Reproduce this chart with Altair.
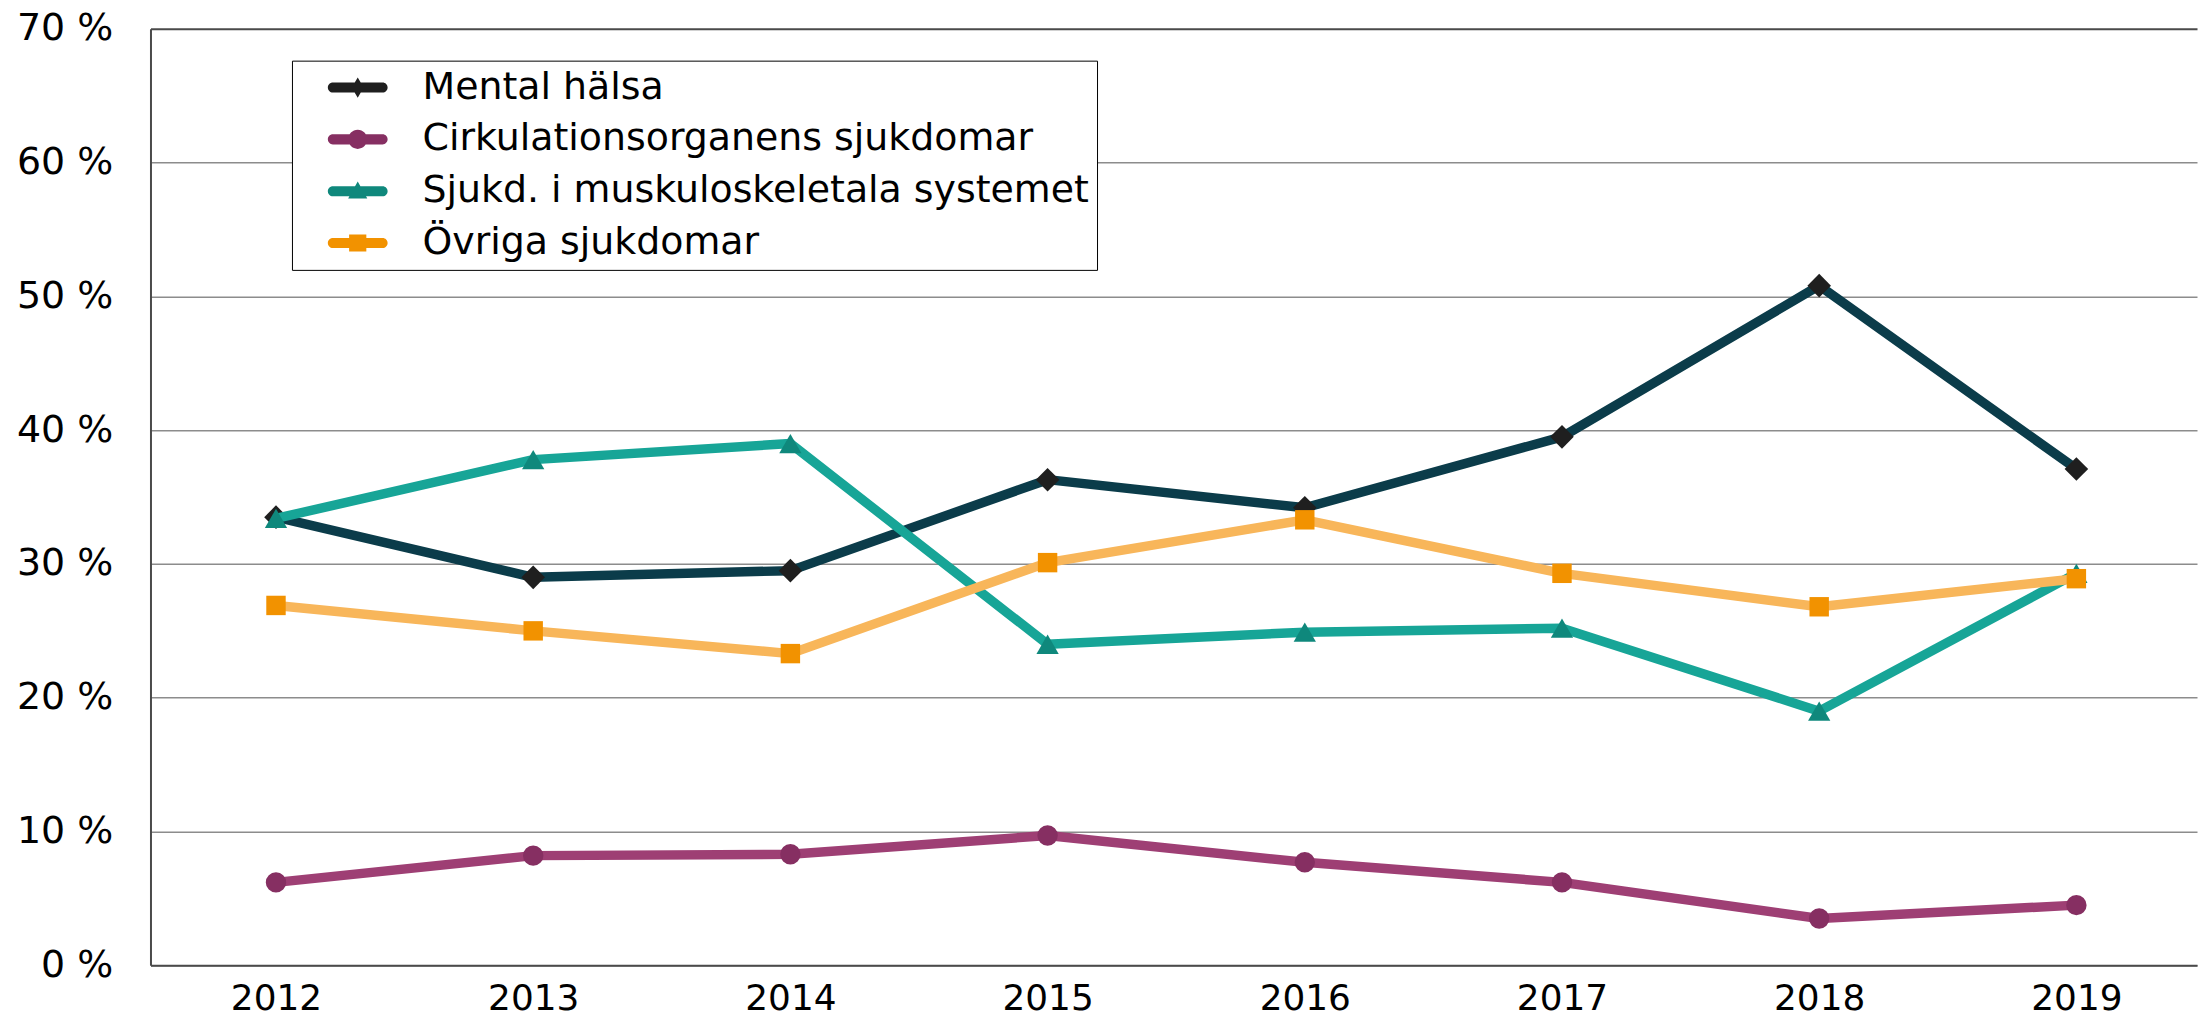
import altair as alt
import pandas as pd

# ---------------- data ----------------
years = [2012, 2013, 2014, 2015, 2016, 2017, 2018, 2019]
series_names = [
    "Mental hälsa",
    "Cirkulationsorganens sjukdomar",
    "Sjukd. i muskuloskeletala systemet",
    "Övriga sjukdomar",
]
mental = [33.5, 29.0, 29.5, 36.3, 34.2, 39.5, 50.8, 37.1]
cirkulation = [6.2, 8.2, 8.3, 9.7, 7.7, 6.2, 3.5, 4.5]
muskulo = [33.4, 37.8, 39.0, 24.0, 24.9, 25.2, 19.0, 29.3]
ovriga = [26.9, 25.0, 23.3, 30.1, 33.3, 29.3, 26.8, 28.9]
y_ticks = [0, 10, 20, 30, 40, 50, 60, 70]

values = [mental, cirkulation, muskulo, ovriga]

# ---------------- styles ----------------
line_colors = ["#0b3c4a", "#9e3f74", "#17a597", "#f8b65a"]
marker_colors = ["#1f1f1f", "#862f62", "#0f887c", "#f29200"]
marker_shapes = ["diamond", "circle", "triangle-up", "square"]
marker_sizes = [560, 420, 500, 380]
FONT = "DejaVu Sans"
AXIS_DARK = "#4a4a4a"

rows = []
for name, vals in zip(series_names, values):
    for yr, v in zip(years, vals):
        rows.append({"year": yr, "value": v, "series": name})
df = pd.DataFrame(rows)

# legend symbol paths (bar with rounded ends + marker), shifted by dx units
def f(v):
    return f"{v:.3f}"

def legend_path(marker, dx):
    bar = (f"M{f(dx-2.08)},-0.42 H{f(dx+2.08)} A0.42,0.42 0 0,1 {f(dx+2.08)},0.42 "
           f"H{f(dx-2.08)} A0.42,0.42 0 0,1 {f(dx-2.08)},-0.42 Z")
    if marker == "diamond":
        m = f"M{f(dx)},-0.85 L{f(dx+0.5)},0 L{f(dx)},0.85 L{f(dx-0.5)},0 Z"
    elif marker == "circle":
        m = (f"M{f(dx-0.8)},0 A0.8,0.8 0 1,1 {f(dx+0.8)},0 "
             f"A0.8,0.8 0 1,1 {f(dx-0.8)},0 Z")
    elif marker == "triangle-up":
        m = f"M{f(dx)},-0.8 L{f(dx+0.8)},0.62 L{f(dx-0.8)},0.62 Z"
    else:
        m = f"M{f(dx-0.72)},-0.72 H{f(dx+0.72)} V0.72 H{f(dx-0.72)} Z"
    return bar + " " + m

DX = 3.25
paths = [legend_path(s, DX) for s in marker_shapes]

def per_entry_expr(items, default):
    expr = f"'{items[-1]}'"
    for n, it in reversed(list(zip(series_names[:-1], items[:-1]))):
        expr = f"datum.value == '{n}' ? '{it}' : ({expr})"
    return f"(datum && datum.value) ? ({expr}) : '{default}'"

shape_expr = per_entry_expr(paths, "circle")

legend = alt.Legend(
    orient="none",
    legendX=142,
    legendY=32,
    title=None,
    padding=8,
    rowPadding=14,
    labelFont=FONT,
    labelFontSize=38,
    labelColor="black",
    labelOffset=85,
    labelLimit=2000,
    symbolSize=576,
    symbolStrokeWidth=0,
    symbolOpacity=1,
    symbolType={"expr": shape_expr},
    fillColor="white",
    strokeColor="black",
)

x_scale = alt.Scale(domain=[2011.512, 2019.469], nice=False, zero=False)
y_scale = alt.Scale(domain=[0, 70], nice=False, zero=True)

x_axis = alt.Axis(
    values=years, format="d", title=None, grid=False, ticks=False,
    labelFont=FONT, labelFontSize=36, labelColor="black",
    labelBaseline="alphabetic", labelPadding=44,
    labelFlush=False, domainColor=AXIS_DARK, domainWidth=2,
)
y_axis = alt.Axis(
    values=y_ticks, labelExpr="datum.value + ' %'", title=None, ticks=False,
    labelFont=FONT, labelFontSize=38, labelColor="black", labelPadding=38,
    domainColor=AXIS_DARK, domainWidth=2,
    gridColor={"condition": {"test": "datum.value == 70", "value": AXIS_DARK},
               "value": "#8c8c8c"},
    gridWidth={"condition": {"test": "datum.value == 70", "value": 2},
               "value": 1.5},
)

fill_enc = alt.Fill(
    "series:N",
    scale=alt.Scale(domain=series_names, range=marker_colors),
    legend=legend,
)

layers = []
for i, name in enumerate(series_names):
    base = alt.Chart(df).transform_filter(alt.datum.series == name)
    line = base.mark_line(
        strokeWidth=9.5, strokeJoin="round", color=line_colors[i]
    ).encode(
        x=alt.X("year:Q", scale=x_scale, axis=x_axis),
        y=alt.Y("value:Q", scale=y_scale, axis=y_axis),
    )
    pts = base.mark_point(
        shape=marker_shapes[i], filled=True, size=marker_sizes[i],
        opacity=1, strokeWidth=0,
    ).encode(
        x=alt.X("year:Q", scale=x_scale, axis=x_axis),
        y=alt.Y("value:Q", scale=y_scale, axis=y_axis),
        fill=fill_enc,
    )
    layers += [line, pts]

chart = alt.layer(*layers).properties(
    width=2054,
    height=940,
    background="white",
    autosize=alt.AutoSizeParams(type="none"),
    padding={"left": 143, "top": 19, "right": 3, "bottom": 53},
).configure_view(stroke=None)

chart.save("out.html", embed_options={"renderer": "svg", "actions": False})
